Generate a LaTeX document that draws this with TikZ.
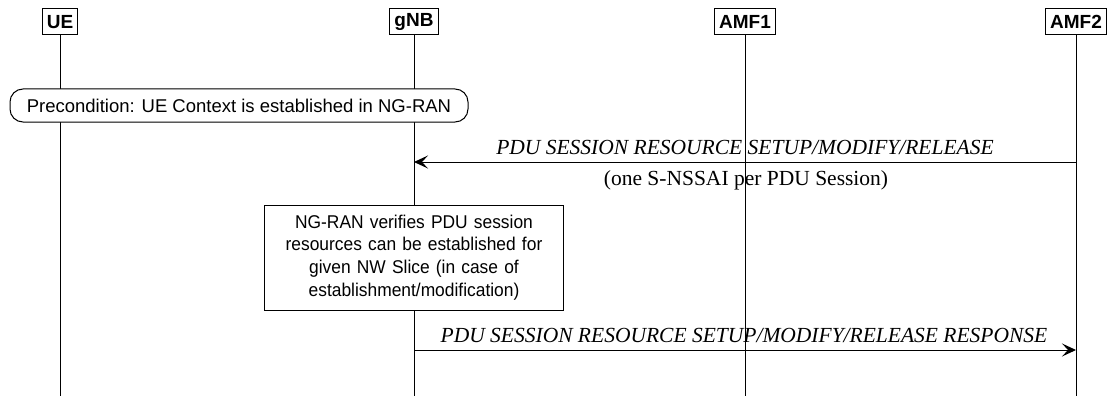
\documentclass[tikz,border=0pt]{standalone}
\usepackage{fontspec}
\setmainfont{Liberation Serif}
\setsansfont{Liberation Sans}
\newfontfamily\notefont[FakeStretch=0.94]{Liberation Sans}
\usetikzlibrary{arrows.meta,positioning}

\begin{document}
\begin{tikzpicture}[x=1pt,y=-1pt,
    entity/.style={draw, line width=1pt, fill=white, font=\sffamily\bfseries\fontsize{19}{22}\selectfont,
        inner xsep=4.5pt, inner ysep=0pt, minimum height=26pt},
    life/.style={line width=0.9pt},
    msg/.style={line width=1pt, -{Stealth[length=14pt,width=13pt,inset=6pt]}},
    msgtext/.style={font=\fontsize{21.5}{24}\selectfont, inner sep=0pt, anchor=base},
    note/.style={draw, line width=1pt, fill=white, align=center, inner sep=0pt,
        font=\notefont\fontsize{18.5}{22.7}\selectfont}]
    \useasboundingbox (0,0) rectangle (1109,396);

    % Entities
    \node[entity] (ue)   at (60,22)   {UE};
    \node[entity] (gnb)  at (414,22)  {gNB};
    \node[entity] (amf1) at (745,22)  {AMF1};
    \node[entity] (amf2) at (1076,22) {AMF2};

    % Lifelines
    \foreach \n in {ue,gnb,amf1,amf2} {
        \coordinate (\n end) at (\n.south |- 0,396);
        \draw[life] (\n.south) -- (\n end);
    }

    % Precondition
    \node[note, font=\sffamily\fontsize{18.5}{22}\selectfont, rounded corners=13pt,
        minimum width=458pt, minimum height=33pt] (pre) at (239,105.5)
        {Precondition: UE Context is established in NG-RAN};

    % Request
    \coordinate (m1s) at (amf2 |- 0,162);
    \coordinate (m1e) at (gnb |- 0,162);
    \draw[msg] (m1s) -- (m1e);
    \node[msgtext, font=\itshape\fontsize{21.5}{24}\selectfont] (m1a) at (745,154)
        {PDU SESSION RESOURCE SETUP/MODIFY/RELEASE};
    \node[msgtext] (m1b) at (746,185) {(one S-NSSAI per PDU Session)};

    % Check in NG-RAN
    \node[note, minimum width=299pt, minimum height=105pt, text width=290pt] (verify) at (414,257.5)
        {NG-RAN verifies PDU session\\resources can be established for\\given NW Slice (in case of\\establishment/modification)};

    % Response
    \coordinate (m2s) at (gnb |- 0,350);
    \coordinate (m2e) at (amf2 |- 0,350);
    \draw[msg] (m2s) -- (m2e);
    \node[msgtext, font=\itshape\fontsize{21.5}{24}\selectfont] (m2a) at (744,342)
        {PDU SESSION RESOURCE SETUP/MODIFY/RELEASE RESPONSE};
\end{tikzpicture}
\end{document}
